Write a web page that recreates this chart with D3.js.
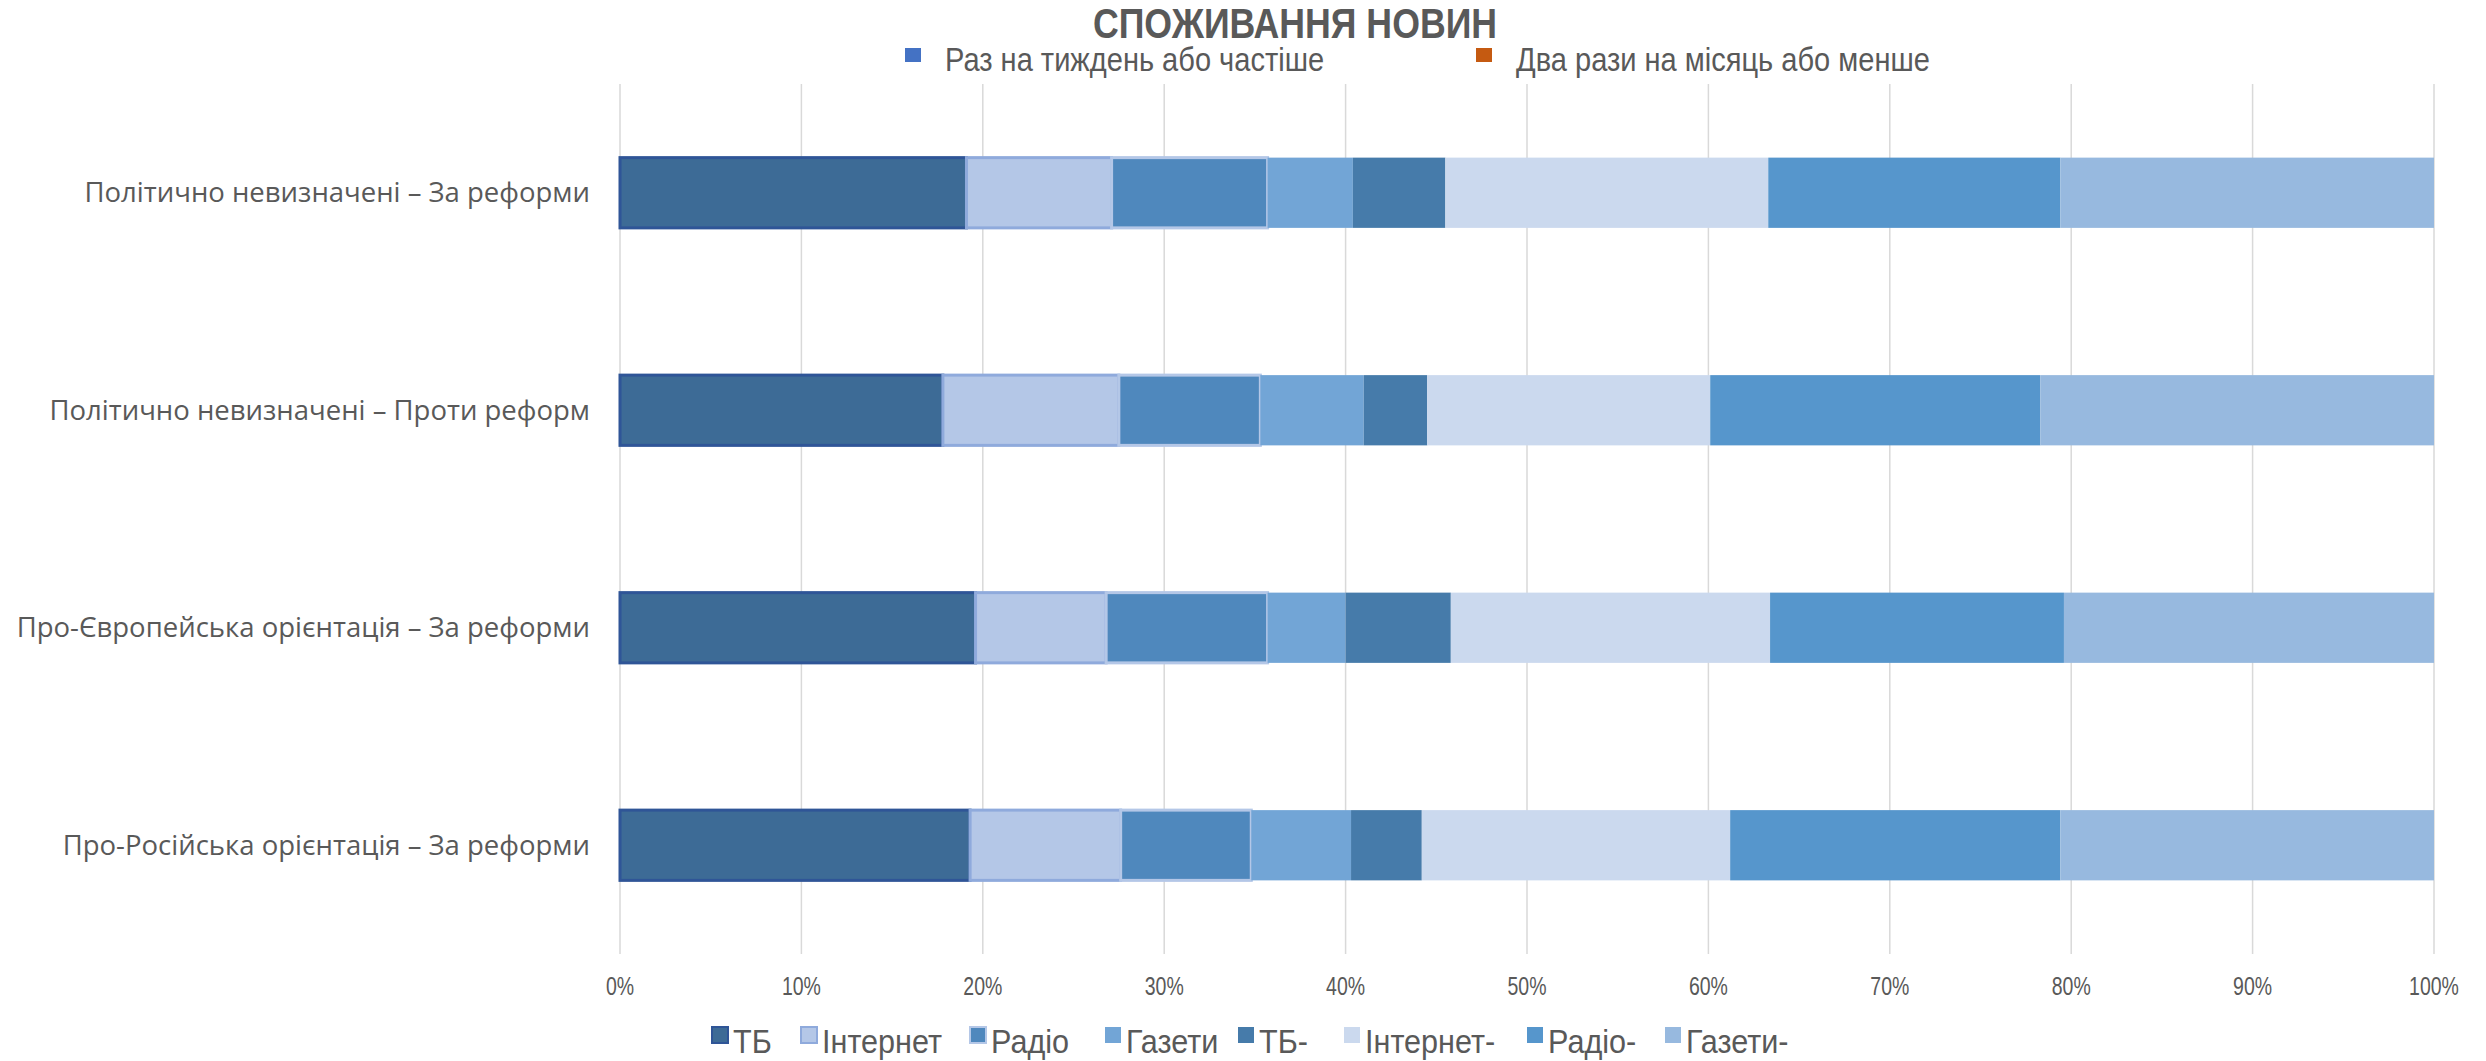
<!DOCTYPE html>
<html>
<head>
<meta charset="utf-8">
<style>
    body { margin: 0; background: #fff; }
    text { fill: #595959; }
</style>
</head>
<body>
    <div id='chart'></div>
<script src='https://cdn.jsdelivr.net/npm/d3@7'></script>
<script>
    var width = 2486,
        height = 1061;

    var categories = [
        'Політично невизначені – За реформи',
        'Політично невизначені – Проти реформ',
        'Про-Європейська орієнтація – За реформи',
        'Про-Російська орієнтація – За реформи'
    ];

    var series = ['ТБ', 'Інтернет', 'Радіо', 'Газети', 'ТБ-', 'Інтернет-', 'Радіо-', 'Газети-'];

    // share per category
    var tv        = [19.1, 17.8, 19.6, 19.3],
        internet  = [8.0, 9.7, 7.2, 8.3],
        radio     = [8.6, 7.8, 8.9, 7.2],
        papers    = [4.7, 5.7, 4.3, 5.5],
        tv2       = [5.1, 3.5, 5.8, 3.9],
        internet2 = [17.8, 15.6, 17.6, 17.0],
        radio2    = [16.1, 18.2, 16.2, 18.2],
        papers2   = [20.6, 21.7, 20.4, 20.6];

    var topLegend = ['Раз на тиждень або частіше', 'Два рази на місяць або менше'];
    var ticks = [0, 0.1, 0.2, 0.3, 0.4, 0.5, 0.6, 0.7, 0.8, 0.9, 1];

    var values = [tv, internet, radio, papers, tv2, internet2, radio2, papers2];
    var rows = categories.map(function(c, i){
        var r = {cat: c};
        series.forEach(function(s, j){ r[s] = values[j][i]; });
        return r;
    });

    var fill = d3.scaleOrdinal()
        .domain(series)
        .range(['#3d6b96', '#b4c7e7', '#4f88bd', '#72a5d6', '#467baa', '#cbd9ee', '#5696cc', '#97b9df']);
    var edge = {'ТБ': '#2f5597', 'Інтернет': '#8faadc', 'Радіо': '#b4c7e7'};

    var narrow = 'Liberation Sans, Arial, sans-serif';

    var margin = {top: 84, right: 52, bottom: 107, left: 620};

    var svg = d3.select('#chart').append('svg')
        .attr('width', width)
        .attr('height', height);

    var x = d3.scaleLinear()
        .domain([0, 1])
        .range([margin.left, width - margin.right]);

    var y = d3.scaleBand()
        .domain(categories)
        .range([margin.top, height - margin.bottom])
        .paddingInner(0.677)
        .paddingOuter(0.3385);

    // gridlines
    svg.append('g').selectAll('line')
        .data(ticks)
        .join('line')
        .attr('x1', function(d){ return x(d); })
        .attr('x2', function(d){ return x(d); })
        .attr('y1', margin.top)
        .attr('y2', height - margin.bottom)
        .style('stroke', '#d9d9d9')
        .style('stroke-width', 1.5);

    var stacked = d3.stack()
        .keys(series)
        .offset(d3.stackOffsetExpand)(rows);

    var layers = svg.append('g').selectAll('g')
        .data(stacked)
        .join('g')
        .style('fill', function(d){ return fill(d.key); });

    layers.selectAll('rect')
        .data(function(d){ return d.map(function(p){ p.key = d.key; return p; }); })
        .join('rect')
        .attr('x', function(d){ return x(d[0]); })
        .attr('width', function(d){ return x(d[1]) - x(d[0]); })
        .attr('y', function(d){ return y(d.data.cat); })
        .attr('height', y.bandwidth())
        .style('stroke', function(d){ return edge[d.key] || 'none'; })
        .style('stroke-width', 3);

    // category labels
    svg.append('g').selectAll('text')
        .data(categories)
        .join('text')
        .attr('x', margin.left - 30)
        .attr('y', function(d){ return y(d) + y.bandwidth() / 2; })
        .attr('dy', '0.35em')
        .attr('text-anchor', 'end')
        .style('font-family', 'Open Sans')
        .style('font-size', '27.5px')
        .text(function(d){ return d; });

    // x tick labels (squeezed to look like the narrow office font)
    svg.append('g').selectAll('g')
        .data(ticks)
        .join('g')
        .attr('transform', function(d){ return 'translate(' + x(d) + ',995) scale(0.78,1)'; })
        .append('text')
        .attr('text-anchor', 'middle')
        .style('font-family', narrow)
        .style('font-size', '25px')
        .text(d3.format('.0%'));

    // title
    svg.append('g')
        .attr('transform', 'translate(1295,38) scale(0.83,1)')
        .append('text')
        .attr('text-anchor', 'middle')
        .style('font-family', narrow)
        .style('font-weight', 'bold')
        .style('font-size', '43px')
        .text('СПОЖИВАННЯ НОВИН');

    // top legend
    var topColors = ['#4472c4', '#c55a11'];
    var topX = [905, 1476];
    var tl = svg.append('g').selectAll('g')
        .data(topLegend)
        .join('g')
        .attr('transform', function(d, i){ return 'translate(' + topX[i] + ',71)'; });
    tl.append('rect')
        .attr('y', -23)
        .attr('width', 16)
        .attr('height', 14)
        .style('fill', function(d, i){ return topColors[i]; });
    tl.append('g')
        .attr('transform', 'translate(40,0) scale(0.88,1)')
        .append('text')
        .style('font-family', narrow)
        .style('font-size', '33px')
        .text(function(d){ return d; });

    // bottom legend
    var botX = [712, 801, 970, 1105, 1238, 1344, 1527, 1665];
    var bl = svg.append('g').selectAll('g')
        .data(series)
        .join('g')
        .attr('transform', function(d, i){ return 'translate(' + botX[i] + ',1053)'; });
    bl.append('rect')
        .attr('y', -26)
        .attr('width', 16)
        .attr('height', 16)
        .style('fill', function(d){ return fill(d); })
        .style('stroke', function(d){ return edge[d] || 'none'; })
        .style('stroke-width', 2);
    bl.append('g')
        .attr('transform', 'translate(21,0) scale(0.9,1)')
        .append('text')
        .style('font-family', narrow)
        .style('font-size', '34px')
        .text(function(d){ return d; });
</script>
</body>
</html>
